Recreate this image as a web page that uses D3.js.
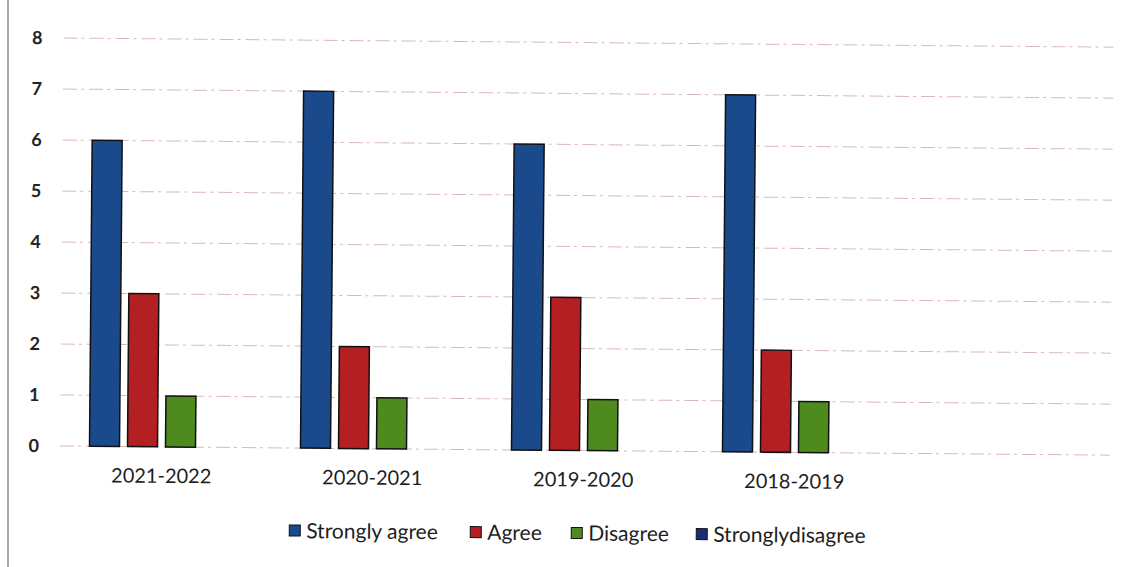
<!DOCTYPE html>
<html>
<head>
<meta charset="utf-8">
<script src="https://cdn.jsdelivr.net/npm/d3@7"></script>
<style>
  body { margin: 0; background: #fff; }
  text { font-family: Lato, "Open Sans", sans-serif; fill: #1e1e1e; }
</style>
</head>
<body>
<script>
// data
const years = ['2021-2022', '2020-2021', '2019-2020', '2018-2019', '']
const series = ['Strongly agree', 'Agree', 'Disagree', 'Stronglydisagree']
const stronglyAgree = [6, 7, 6, 7, 0]
const agree = [3, 2, 3, 2, 0]
const disagree = [1, 1, 1, 1, 0]
const stronglyDisagree = [0, 0, 0, 0, 0]
const yTicks = [0, 1, 2, 3, 4, 5, 6, 7, 8]

const colors = ['#1b4a8c', '#b41f24', '#4f8a1f', '#1c2a78']
const values = [stronglyAgree, agree, disagree, stronglyDisagree]

let width = 1121, height = 567
let svg = d3.select('body').append('svg')
  .attr('width', width)
  .attr('height', height)

// page edge of the scan
svg.append('line')
  .attr('x1', 8).attr('x2', 8).attr('y1', 0).attr('y2', height)
  .style('stroke', '#9a8a8a').style('stroke-width', 1.5)

// scan is tilted a bit
let chart = svg.append('g').attr('transform', 'rotate(0.5, 60, 446)')

const x = d3.scaleBand().domain(years.map((d, i) => i)).range([56, 1111])
const y = d3.scaleLinear().domain([0, 8]).range([446, 38])
const groupW = 144
const xs = d3.scaleBand().domain(series).range([0, groupW]).paddingInner(8 / 38)

// gridlines
chart.append('g').selectAll('line').data(yTicks).enter().append('line')
  .attr('x1', 60).attr('x2', 1110)
  .attr('y1', d => y(d)).attr('y2', d => y(d))
  .style('stroke', '#d9b8bc')
  .style('stroke-width', 1)
  .style('stroke-dasharray', '14 4 3 5')

// y labels
let yAxis = d3.axisLeft(y).tickValues(yTicks).tickSize(0).tickPadding(0)
chart.append('g').attr('transform', 'translate(39,0)').call(yAxis)
  .call(g => g.select('.domain').remove())
  .selectAll('text')
  .style('font-size', '18px').style('font-weight', 'bold')
  .style('font-family', 'Lato, sans-serif').style('fill', '#222')

// bars
let groups = chart.append('g').selectAll('g').data(years).enter().append('g')
  .attr('transform', (d, i) => `translate(${x(i) + (x.bandwidth() - groupW) / 2},0)`)

groups.selectAll('rect')
  .data((d, i) => series.map((s, k) => ({ s, k, v: values[k][i] })).filter(e => e.v > 0))
  .enter().append('rect')
  .attr('x', d => xs(d.s))
  .attr('width', xs.bandwidth())
  .attr('y', d => y(d.v))
  .attr('height', d => y(0) - y(d.v))
  .style('fill', d => colors[d.k])
  .style('stroke', '#111')
  .style('stroke-width', 1.5)

// category labels
chart.append('g').selectAll('text').data(years).enter().append('text')
  .attr('x', (d, i) => x(i) + x.bandwidth() / 2)
  .attr('y', 482)
  .attr('text-anchor', 'middle')
  .style('font-size', '20px')
  .text(d => d)

// legend
const legendX = [290, 471, 572, 697]
let legend = chart.append('g').selectAll('g').data(series).enter().append('g')
  .attr('transform', (d, i) => `translate(${legendX[i]},529)`)
legend.append('rect')
  .attr('x', 0).attr('y', -6).attr('width', 11).attr('height', 11)
  .style('fill', (d, i) => colors[i])
  .style('stroke', '#111')
legend.append('text')
  .attr('x', 17).attr('y', 7)
  .style('font-size', '21px')
  .text(d => d)
</script>
</body>
</html>
